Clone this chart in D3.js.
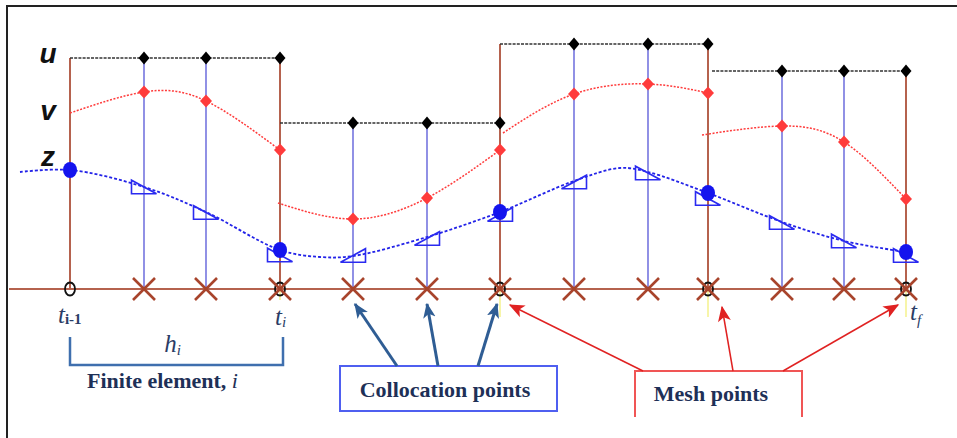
<!DOCTYPE html>
<html><head><meta charset="utf-8">
<script src="https://cdn.jsdelivr.net/npm/d3@7"></script>
<style>html,body{margin:0;padding:0;background:#fff;} svg{display:block;}</style>
</head><body>
<svg id="c" width="957" height="438"></svg>
<script>
// ---- data (diagram units) ----
const meshT = [0, 2.10, 4.30, 6.38, 8.36];
const collocT = [[0.74, 1.36], [2.83, 3.57], [5.04, 5.78], [7.12, 7.74]];
const uLevel = [231, 166, 245, 218];
const vStart = [[0, 176], [2.08, 86], [4.33, 156], [6.32, 154]];
const vValues = [[197, 188, 139], [70, 91, 139], [195, 205, 196], [163, 147, 90]];
const zCurveT = [-0.5, 0, 0.74, 1.36, 2.10, 2.5, 2.83, 3.57, 4.30, 5.04, 5.5, 5.78, 6.38, 7.12, 7.74, 8.36];
const zCurveV = [117, 119, 102, 77, 39, 32, 33, 52, 77, 108, 121, 117, 96, 67, 48, 37];
const zMesh = [119, 39, 77, 96, 37];
const triT = [0.74, 1.36, 2.10, 2.83, 3.57, 4.30, 5.04, 5.78, 6.38, 7.12, 7.74, 8.36];
const triV = [102, 76.5, 34, 33.5, 50.5, 74.5, 107, 116, 90.5, 66.5, 48, 33.5];
const triSlope = [-1, -1, -1, 1, 1, 1, 1, -1, -1, -1, -1, -1];
const seriesLabels = ["u", "v", "z"];

const svg = d3.select("#c");
const x = d3.scaleLinear().domain([0, 8.36]).range([70, 906]);
const y = d3.scaleLinear().domain([0, 250]).range([289, 39]);

const BROWN = "#b5624e", CROSS = "#a8442c", BLUEV = "#5c5cd8", RED = "#ff3b3b",
      ZBLUE = "#2323e8", NAVY = "#1e3057";

// defs: arrowheads
const defs = svg.append("defs");
defs.append("marker").attr("id", "ab").attr("viewBox", "0 0 12 10").attr("refX", 11).attr("refY", 5)
  .attr("markerWidth", 15).attr("markerHeight", 13).attr("markerUnits", "userSpaceOnUse").attr("orient", "auto")
  .append("path").attr("d", "M0,0 L12,5 L0,10 L3,5 Z").attr("fill", "#2f5d94");
defs.append("marker").attr("id", "ar").attr("viewBox", "0 0 12 10").attr("refX", 11).attr("refY", 5)
  .attr("markerWidth", 17).attr("markerHeight", 13).attr("markerUnits", "userSpaceOnUse").attr("orient", "auto")
  .append("path").attr("d", "M0,0 L12,5 L0,10 L3,5 Z").attr("fill", "#e02222");

// frame
svg.append("path").attr("d", "M7,438 L7,6 L957,6").attr("fill", "none").attr("stroke", "#222").attr("stroke-width", 2);

// yellow guide lines at mesh points
const innerMesh = meshT.slice(1);
svg.selectAll(".yl").data(innerMesh).join("line")
  .attr("x1", d => x(d)).attr("x2", d => x(d))
  .attr("y1", y(0) - 26).attr("y2", (d, i) => i === 0 ? y(0) + 11 : y(0) + 28)
  .attr("stroke", "#f2ee70").attr("stroke-width", 1.2);

// axis line
svg.append("line").attr("x1", x(-0.61)).attr("x2", x(8.36)).attr("y1", y(0)).attr("y2", y(0))
  .attr("stroke", BROWN).attr("stroke-width", 1.8);

// brown verticals at mesh points
svg.selectAll(".mv").data(meshT).join("line")
  .attr("x1", d => x(d)).attr("x2", d => x(d)).attr("y1", y(0))
  .attr("y2", (d, i) => {
    const l = i > 0 ? uLevel[i - 1] : -Infinity, r = i < uLevel.length ? uLevel[i] : -Infinity;
    return y(Math.max(l, r));
  })
  .attr("stroke", BROWN).attr("stroke-width", 2);

// blue verticals at collocation points
const colloc = [];
collocT.forEach((pair, k) => pair.forEach(t => colloc.push({ t, k })));
svg.selectAll(".cv").data(colloc).join("line")
  .attr("x1", d => x(d.t)).attr("x2", d => x(d.t)).attr("y1", y(0)).attr("y2", d => y(uLevel[d.k]))
  .attr("stroke", BLUEV).attr("stroke-width", 1.6).attr("stroke-opacity", 0.85);

// u dotted lines
svg.selectAll(".ul").data(uLevel).join("line")
  .attr("x1", (d, k) => x(meshT[k]) + (k === 3 ? 4 : 0)).attr("x2", (d, k) => x(meshT[k + 1]))
  .attr("y1", d => y(d)).attr("y2", d => y(d))
  .attr("stroke", "#333").attr("stroke-width", 1.4).attr("stroke-dasharray", "3,1.2");

// v red curves
const vLine = d3.line().x(d => x(d[0])).y(d => y(d[1])).curve(d3.curveNatural);
const vPts = vStart.map((s, k) => [s, [collocT[k][0], vValues[k][0]], [collocT[k][1], vValues[k][1]], [meshT[k + 1], vValues[k][2]]]);
svg.selectAll(".vc").data(vPts).join("path")
  .attr("d", vLine).attr("fill", "none").attr("stroke", RED).attr("stroke-width", 1.5).attr("stroke-dasharray", "2,1.5");

// z blue curve
const zPts = zCurveT.map((t, i) => [t, zCurveV[i]]);
svg.append("path").datum(zPts)
  .attr("d", d3.line().x(d => x(d[0])).y(d => y(d[1])).curve(d3.curveCatmullRom.alpha(0.5)))
  .attr("fill", "none").attr("stroke", ZBLUE).attr("stroke-width", 1.8).attr("stroke-dasharray", "3,2");

// triangles (slope markers)
svg.selectAll(".tri").data(triT.map((t, i) => ({ t, v: triV[i], s: triSlope[i] }))).join("path")
  .attr("d", d => {
    const cx = x(d.t), cy = y(d.v), hw = 12.5, hh = 6.8;
    if (d.s < 0) return `M${cx - hw},${cy - hh} L${cx - hw},${cy + hh} L${cx + hw},${cy + hh} Z`;
    return `M${cx - hw},${cy + hh} L${cx + hw},${cy + hh} L${cx + hw},${cy - hh} Z`;
  })
  .attr("fill", "none").attr("stroke", "#2a2af0").attr("stroke-width", 1.6);

// z circles at mesh points
svg.selectAll(".zc").data(meshT).join("ellipse")
  .attr("cx", d => x(d)).attr("cy", (d, i) => y(zMesh[i])).attr("rx", 7).attr("ry", 8)
  .attr("fill", "#1414ee");

// diamonds
const diamondType = (hw, hh) => ({ draw(ctx) { ctx.moveTo(0, -hh); ctx.lineTo(hw, 0); ctx.lineTo(0, hh); ctx.lineTo(-hw, 0); ctx.closePath(); } });
const uPts = [], vDia = [];
collocT.forEach((pair, k) => {
  [pair[0], pair[1], meshT[k + 1]].forEach((t, j) => { uPts.push([t, uLevel[k]]); vDia.push([t, vValues[k][j]]); });
});
svg.selectAll(".vd").data(vDia).join("path")
  .attr("transform", d => `translate(${x(d[0])},${y(d[1])})`)
  .attr("d", d3.symbol().type(diamondType(6, 6.5))).attr("fill", RED);
svg.selectAll(".ud").data(uPts).join("path")
  .attr("transform", d => `translate(${x(d[0])},${y(d[1])})`)
  .attr("d", d3.symbol().type(diamondType(5.5, 6.5))).attr("fill", "#000");

// axis ellipses at mesh points
svg.selectAll(".ae").data(meshT).join("ellipse")
  .attr("cx", d => x(d)).attr("cy", y(0)).attr("rx", 5).attr("ry", 6.5)
  .attr("fill", "none").attr("stroke", "#111").attr("stroke-width", 1.8);

// crosses at collocation and mesh points (except first)
const crossT = colloc.map(d => d.t).concat(innerMesh);
svg.selectAll(".cr").data(crossT).join("path")
  .attr("d", d => { const cx = x(d), cy = y(0), s = 11; return `M${cx - s},${cy - s} L${cx + s},${cy + s} M${cx - s},${cy + s} L${cx + s},${cy - s}`; })
  .attr("stroke", CROSS).attr("stroke-width", 2.6).attr("fill", "none");

// series labels
const labelVals = [uLevel[0], vStart[0][1], zMesh[0]];
const labelOff = [5, 7, -4];
svg.selectAll(".sl").data(seriesLabels).join("text")
  .attr("x", 48).attr("y", (d, i) => y(labelVals[i]) + labelOff[i])
  .attr("text-anchor", "middle").attr("font-family", "Liberation Sans, Arial, sans-serif")
  .attr("font-weight", "bold").attr("font-style", "italic").attr("font-size", 28).attr("fill", "#111")
  .text(d => d);

// time labels
const serif = "Liberation Serif, Times New Roman, serif";
function tLabel(t, dx, by, sub, subBold, subItalic, subDy) {
  const tx = svg.append("text").attr("x", x(t) + dx).attr("y", by).attr("font-family", serif).attr("fill", "#2b3d66");
  tx.append("tspan").attr("font-style", "italic").attr("font-size", 25).text("t");
  tx.append("tspan").attr("font-size", 15).attr("dy", subDy).attr("font-weight", subBold ? "bold" : "normal")
    .attr("font-style", subItalic ? "italic" : "normal").text(sub);
}
tLabel(meshT[0], -12, 323, "i-1", true, false, 1);
tLabel(meshT[1], -5, 325, "i", false, true, 2);
tLabel(meshT[4], 4, 320, "f", false, true, 5);

// element bracket
const bx0 = x(meshT[0]), bx1 = x(meshT[1]) + 3;
svg.append("path").attr("d", `M${bx0},337 L${bx0},365 L${bx1},365 L${bx1},337`)
  .attr("fill", "none").attr("stroke", "#3f6fae").attr("stroke-width", 2.5);
const hl = svg.append("text").attr("x", (bx0 + bx1) / 2 - 4).attr("y", 352).attr("text-anchor", "middle")
  .attr("font-family", serif).attr("font-style", "italic").attr("fill", "#2b3d66");
hl.append("tspan").attr("font-size", 25).text("h");
hl.append("tspan").attr("font-size", 15).attr("dy", 3).text("i");
const fe = svg.append("text").attr("x", 87).attr("y", 388).attr("font-family", serif).attr("font-size", 22).attr("fill", NAVY);
fe.append("tspan").attr("font-weight", "bold").text("Finite element, ");
fe.append("tspan").attr("font-style", "italic").text("i");

// collocation points box
svg.append("rect").attr("x", 340).attr("y", 366).attr("width", 217).attr("height", 45)
  .attr("fill", "#fff").attr("stroke", "#4f5ff0").attr("stroke-width", 2);
svg.append("text").attr("x", 445).attr("y", 397).attr("text-anchor", "middle").attr("font-family", serif)
  .attr("font-weight", "bold").attr("font-size", 22).attr("fill", NAVY).text("Collocation points");
const blueArrowTargets = [collocT[1][0], collocT[1][1], meshT[2]];
const blueArrowStart = [397, 438, 478];
const blueArrowDx = [2, 0, -3];
svg.selectAll(".ba").data(blueArrowTargets).join("line")
  .attr("x1", (d, i) => blueArrowStart[i]).attr("y1", 366)
  .attr("x2", (d, i) => x(d) + blueArrowDx[i]).attr("y2", 304)
  .attr("stroke", "#2f5d94").attr("stroke-width", 3).attr("marker-end", "url(#ab)");

// mesh points box (open bottom)
svg.append("path").attr("d", "M635,417 L635,371 L802,371 L802,417")
  .attr("fill", "none").attr("stroke", "#f05555").attr("stroke-width", 2);
svg.append("text").attr("x", 711).attr("y", 401).attr("text-anchor", "middle").attr("font-family", serif)
  .attr("font-weight", "bold").attr("font-size", 22).attr("fill", NAVY).text("Mesh points");
const redArrowTargets = [meshT[2], meshT[3], meshT[4]];
const redArrowStart = [643, 733, 783];
const redArrowDx = [10, 14, -8];
const redArrowDy = [16, 18, 16];
svg.selectAll(".ra").data(redArrowTargets).join("line")
  .attr("x1", (d, i) => redArrowStart[i]).attr("y1", 371)
  .attr("x2", (d, i) => x(d) + redArrowDx[i]).attr("y2", (d, i) => y(0) + redArrowDy[i])
  .attr("stroke", "#e02222").attr("stroke-width", 1.5).attr("marker-end", "url(#ar)");
</script>
</body></html>
